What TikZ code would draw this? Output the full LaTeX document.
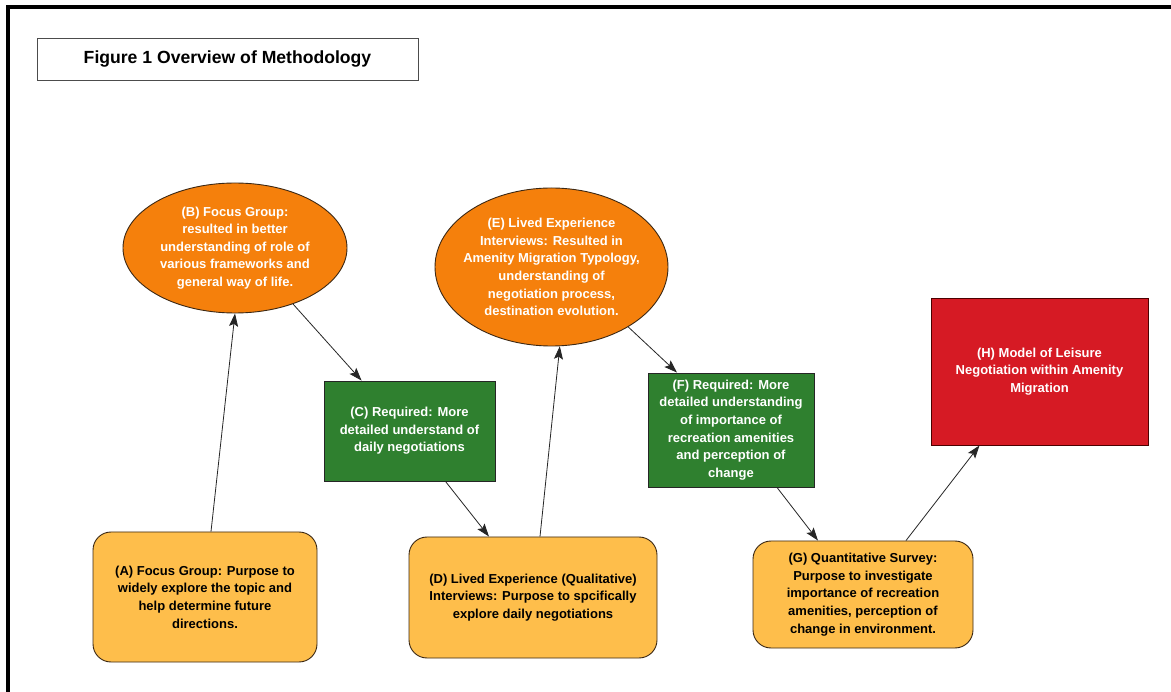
\documentclass[tikz,border=0pt]{standalone}
\usepackage{fontspec}
\setmainfont{Liberation Sans}
\usetikzlibrary{shapes.geometric,arrows.meta,calc}
\definecolor{ellorange}{RGB}{245,128,12}
\definecolor{boxgreen}{RGB}{47,128,47}
\definecolor{boxred}{RGB}{214,26,36}
\definecolor{boxyellow}{RGB}{254,190,75}
\definecolor{edgedark}{RGB}{60,40,20}
\begin{document}
\begin{tikzpicture}[x=1pt,y=-1pt,
  txt/.style={font=\bfseries\fontsize{13}{17.6}\selectfont, align=center, inner sep=0pt},
  wtxt/.style={txt, text=white},
  ellbox/.style={ellipse, draw=edgedark, fill=ellorange, line width=0.9pt, inner sep=0pt},
  greenbox/.style={rectangle, draw=black!85, fill=boxgreen, line width=0.9pt, inner sep=0pt, wtxt},
  redbox/.style={rectangle, draw=black!70!red, fill=boxred, line width=0.9pt, inner sep=0pt, wtxt},
  roundbox/.style={rectangle, rounded corners=18pt, draw=edgedark, fill=boxyellow, line width=0.9pt, inner sep=0pt, txt},
  titlebox/.style={rectangle, draw=black!70, line width=0.8pt, inner sep=0pt, font=\bfseries\fontsize{17.6}{20}\selectfont},
  arr/.style={-{Stealth[length=13pt,width=9pt,inset=2.5pt]}, line width=0.8pt, black!85}
]
\useasboundingbox (0,0) rectangle (1171,692);
\fill[white] (0,0) rectangle (1171,692);
\draw[line width=4pt] (7.5,692) -- (7.5,7) -- (1171,7);

\node[titlebox, minimum width=381pt, minimum height=42pt] (title) at (227.5,59) {Figure 1 Overview of Methodology};

\node[roundbox, minimum width=224pt, minimum height=130pt] (A) at (205,597)
  {(A) Focus Group: Purpose to\\widely explore the topic and\\help determine future\\directions.};
\node[ellbox, minimum width=224pt, minimum height=130pt] (B) at (235,248) {};
\node[wtxt] (Btext) at (B.center) {(B) Focus Group:\\resulted in better\\understanding of role of\\various frameworks and\\general way of life.};
\node[greenbox, minimum width=171pt, minimum height=100pt] (C) at (409.5,431)
  {(C) Required: More\\detailed understand of\\daily negotiations};
\node[roundbox, minimum width=248pt, minimum height=121pt] (D) at (533,597.5)
  {(D) Lived Experience (Qualitative)\\Interviews: Purpose to spcifically\\explore daily negotiations};
\node[ellbox, minimum width=233pt, minimum height=158pt] (E) at (551.5,267) {};
\node[wtxt] (Etext) at (E.center) {(E) Lived Experience\\Interviews: Resulted in\\Amenity Migration Typology,\\understanding of\\negotiation process,\\destination evolution.};
\node[greenbox, minimum width=166pt, minimum height=114pt] (F) at (731,430)
  {(F) Required: More\\detailed understanding\\of importance of\\recreation amenities\\and perception of\\change};
\node[roundbox, minimum width=220pt, minimum height=107pt] (G) at (863,594.5)
  {(G) Quantitative Survey:\\Purpose to investigate\\importance of recreation\\amenities, perception of\\change in environment.};
\node[redbox, minimum width=217pt, minimum height=147pt] (H) at (1039.5,371.5)
  {(H) Model of Leisure\\Negotiation within Amenity\\Migration};

\draw[arr] ($(A.north)+(6,0)$) -- (B.south);
\draw[arr] (B.316) -- ($(C.north west)+(38,0)$);
\draw[arr] ($(C.south)+(36,0)$) -- ($(D.north)+(-44,0)$);
\draw[arr] ($(D.north)+(7,0)$) -- (E.276);
\draw[arr] (E.322) -- ($(F.north)+(-54,0)$);
\draw[arr] ($(F.south)+(46,0)$) -- ($(G.north)+(-45,0)$);
\draw[arr] ($(G.north)+(43,0)$) -- ($(H.south)+(-60,0)$);
\end{tikzpicture}
\end{document}
